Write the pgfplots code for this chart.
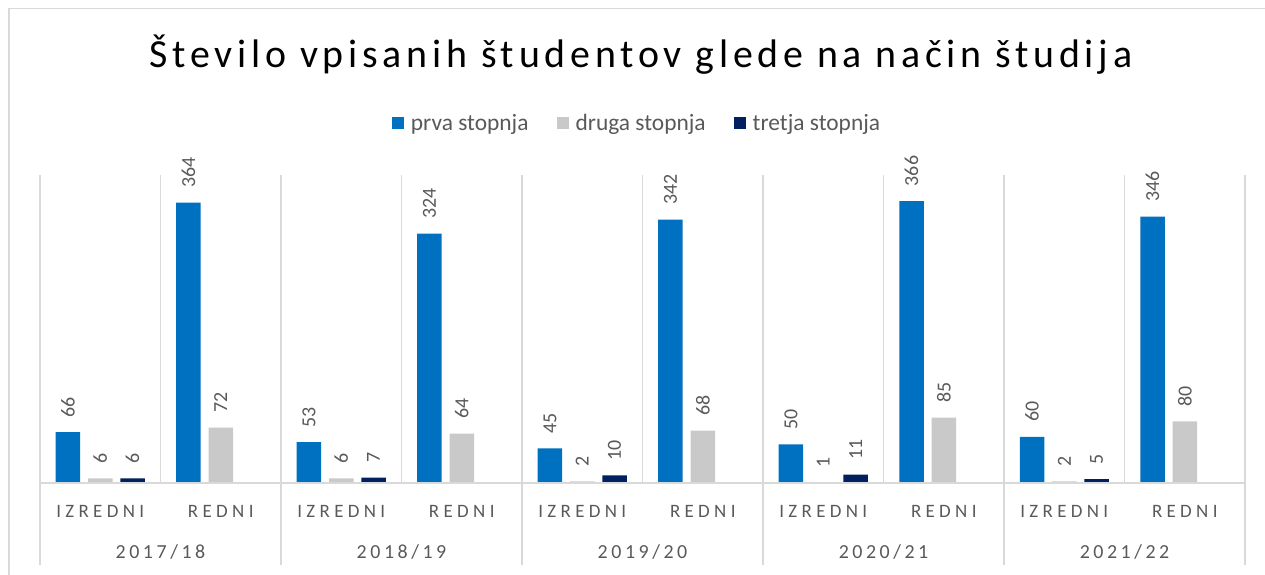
\documentclass[border=0pt]{standalone}
\usepackage{pgfplots}
\pgfplotsset{compat=1.18}
\usepackage{fontspec}
\setmainfont{Carlito}
\newfontfamily\titlefont[LetterSpace=12]{Carlito}
\newfontfamily\tickfont[LetterSpace=23]{Carlito}
\newfontfamily\yearfont[LetterSpace=17.8]{Carlito}
\definecolor{cA}{HTML}{0070C0}
\definecolor{cB}{HTML}{C9C9C9}
\definecolor{cC}{HTML}{002060}
\definecolor{txt}{HTML}{595959}
\definecolor{gridc}{HTML}{D9D9D9}
\begin{document}
\begin{tikzpicture}
\begin{axis}[
  scale only axis, width=1205bp, height=308bp,
  xmin=-0.5, xmax=9.5, ymin=0, ymax=400,
  clip=false,
  axis line style={draw=none},
  ytick=\empty,
  xtick={0,...,9},
  xticklabels={IZREDNI,REDNI,IZREDNI,REDNI,IZREDNI,REDNI,IZREDNI,REDNI,IZREDNI,REDNI},
  xticklabel style={anchor=base, yshift=-34.5bp, font=\tickfont\fontsize{19}{22}\selectfont, text=txt},
  major tick length=0pt,
  minor xtick={-0.5,0.5,...,9.5},
  minor tick length=0pt,
  xminorgrids=true,
  minor grid style={color=gridc, line width=1.3bp},
  ybar=7.8bp, bar width=24.5bp,
  /pgf/number format/assume math mode=true,
  nodes near coords,
  nodes near coords style={rotate=90, anchor=west, font=\fontsize{20}{24}\selectfont, text=txt, inner xsep=0pt, outer xsep=15bp},
  legend columns=3,
  legend style={at={(0.4954,1.169)}, anchor=center, draw=none, fill=none,
    font=\fontsize{23.5}{27}\selectfont, text=txt,
    /tikz/every even column/.append style={column sep=26bp},
    /tikz/every odd column/.append style={column sep=5bp}},
  legend image code/.code={\fill[#1] (0bp,-6bp) rectangle (12bp,6bp);},
]
\addplot[fill=cA, draw=none] coordinates {(0,66) (1,364) (2,53) (3,324) (4,45) (5,342) (6,50) (7,366) (8,60) (9,346)};
\addlegendentry{prva stopnja}
\addplot[fill=cB, draw=none] coordinates {(0,6) (1,72) (2,6) (3,64) (4,2) (5,68) (6,1) (7,85) (8,2) (9,80)};
\addlegendentry{druga stopnja}
\addplot[fill=cC, draw=none] coordinates {(0,6) (2,7) (4,10) (6,11) (8,5)};
\addlegendentry{tretja stopnja}
\draw[gridc, line width=1.3bp] (axis cs:-0.5,0) -- (axis cs:9.5,0);
\draw[gridc, line width=1.3bp] (axis cs:-0.5,0) -- (axis cs:-0.5,-106.5);
\draw[gridc, line width=1.3bp] (axis cs:1.5,0) -- (axis cs:1.5,-106.5);
\draw[gridc, line width=1.3bp] (axis cs:3.5,0) -- (axis cs:3.5,-106.5);
\draw[gridc, line width=1.3bp] (axis cs:5.5,0) -- (axis cs:5.5,-106.5);
\draw[gridc, line width=1.3bp] (axis cs:7.5,0) -- (axis cs:7.5,-106.5);
\draw[gridc, line width=1.3bp] (axis cs:9.5,0) -- (axis cs:9.5,-106.5);
\node[anchor=base, font=\yearfont\fontsize{20}{24}\selectfont, text=txt] at (axis cs:0.5,-98.5) {2017/18};
\node[anchor=base, font=\yearfont\fontsize{20}{24}\selectfont, text=txt] at (axis cs:2.5,-98.5) {2018/19};
\node[anchor=base, font=\yearfont\fontsize{20}{24}\selectfont, text=txt] at (axis cs:4.5,-98.5) {2019/20};
\node[anchor=base, font=\yearfont\fontsize{20}{24}\selectfont, text=txt] at (axis cs:6.5,-98.5) {2020/21};
\node[anchor=base, font=\yearfont\fontsize{20}{24}\selectfont, text=txt] at (axis cs:8.5,-98.5) {2021/22};
\end{axis}
\begin{scope}[x=1bp,y=1bp,shift={(-40bp,-92bp)}]
\draw[line width=1.3bp, color=gridc] (9,-5) -- (9,566.5) -- (1275,566.5);
\node[font=\titlefont\fontsize{40}{48}\selectfont, text=black] at (641,520) {Število vpisanih študentov glede na način študija};
\pgfresetboundingbox
\path[use as bounding box] (0,0) rectangle (1265,575);
\end{scope}
\end{tikzpicture}
\end{document}
